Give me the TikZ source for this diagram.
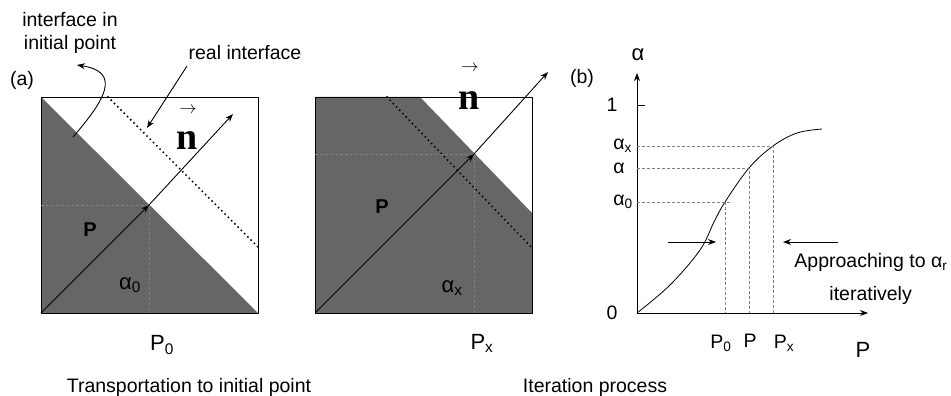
\documentclass[tikz,border=0pt]{standalone}
\usepackage{fontspec}
\setmainfont{Liberation Sans}
\newfontfamily\nfont{Liberation Serif}
\usetikzlibrary{arrows.meta}
\definecolor{fillgray}{RGB}{102,102,102}
\begin{document}
\begin{tikzpicture}[x=1pt,y=-1pt,line join=round,line width=0.9pt,
    >={Stealth[length=8pt,width=6pt]},
    lbl/.style={inner sep=0pt,font=\fontsize{19.5}{23}\selectfont},
    big/.style={inner sep=0pt,font=\fontsize{22}{24}\selectfont},
    bigp/.style={inner sep=0pt,font=\fontsize{20}{22}\selectfont\bfseries},
    nvec/.style={inner sep=0pt,font=\fontsize{38}{40}\selectfont\nfont\bfseries},
    guide/.style={densely dashed,gray,line width=0.6pt},
    iface/.style={line width=2.1pt,line cap=round,dash pattern=on 0pt off 4.6pt}]
\useasboundingbox (0,0) rectangle (951,396);
% (a) left square: interface in initial point
\coordinate (a1) at (41,97);
\coordinate (a3) at (258,313);
\coordinate (a4) at (41,313);
\coordinate (p0) at (149,205);
\coordinate (n0) at (233,114);
\fill[fillgray] (a1) -- (a3) -- (a4) -- cycle;
\draw[iface] (108,97) -- (258,247);
\draw (a1) rectangle (a3);
\draw[guide] (41,205) -- (p0) -- (149,313);
\draw[->] (a4) -- (p0);
\draw[->] (p0) -- (n0);
\node[bigp] (pa) at (90,230) {P};
\node[big] (al0) at (130,285) {α\textsubscript{0}};
\node[nvec] (na) at (187,141) {n};
\node[inner sep=0pt,font=\fontsize{18}{20}\selectfont] (va) at (188,110) {$\rightarrow$};
\node[big] (P0a) at (162,345) {P\textsubscript{0}};
\node[lbl] (capa) at (189,387) {Transportation to initial point};
\node[lbl] (la) at (22,80) {(a)};
% callouts
\node[lbl,align=center] (init) at (70,33) {interface in\\initial point};
\node[lbl] (real) at (245,53) {real interface};
\coordinate (c1) at (73,137);
\coordinate (c2) at (77,65);
\coordinate (r1) at (187,66);
\coordinate (r2) at (147,128);
\draw[->] (c1) .. controls (105,100) and (122,72) .. (c2);
\draw[->] (r1) -- (r2);
% right square: after iteration
\coordinate (b1) at (315,97);
\coordinate (b3) at (532,313);
\coordinate (b4) at (315,313);
\coordinate (px) at (474,154);
\coordinate (nx) at (548,72);
\fill[fillgray] (315,97) -- (420,97) -- (532,213) -- (532,313) -- (315,313) -- cycle;
\draw[iface] (387,97) -- (532,248);
\draw (b1) rectangle (b3);
\draw[guide] (315,154) -- (px) -- (474,313);
\draw[->] (b4) -- (px);
\draw[->] (px) -- (nx);
\node[bigp] (pb) at (382,207) {P};
\node[big] (alx) at (452,288) {α\textsubscript{x}};
\node[nvec] (nb) at (469,101) {n};
\node[inner sep=0pt,font=\fontsize{18}{20}\selectfont] (vb) at (470,68) {$\rightarrow$};
\node[big] (Pxb) at (482,343) {P\textsubscript{x}};
\node[lbl] (capb) at (595,387) {Iteration process};
% (b) graph
\coordinate (O) at (637,313);
\coordinate (ytop) at (637,73);
\coordinate (xend) at (868,313);
\draw[->] (O) -- (ytop);
\draw[->] (O) -- (xend);
\draw (637,105) -- (645,105);
\draw[line width=0.8pt] plot[smooth,tension=0.6] coordinates {(637,313) (670,285) (700,250) (714,222) (725,202) (749,168) (773,146) (797,133) (822,129)};
\draw[guide] (637,202) -- (732,202) (725,202) -- (725,313);
\draw[guide] (637,168) -- (749,168) -- (749,313);
\draw[guide] (637,146) -- (773,146) -- (773,313);
\node[lbl] (lb) at (582,78) {(b)};
\node[big] (yal) at (638,55) {α};
\node[lbl] (one) at (612,105) {1};
\node[lbl] (zero) at (612,313) {0};
\node[lbl,anchor=west] (lax) at (613,146) {α\textsubscript{x}};
\node[lbl,anchor=west] (lal) at (613,168) {α};
\node[lbl,anchor=west] (la0) at (613,202) {α\textsubscript{0}};
\node[lbl] (gP0) at (721,343) {P\textsubscript{0}};
\node[lbl] (gP) at (750,341) {P};
\node[lbl] (gPx) at (784,343) {P\textsubscript{x}};
\node[big] (xP) at (863,350) {P};
\coordinate (l1) at (668,242);
\coordinate (l2) at (716,242);
\coordinate (r3) at (838,242);
\coordinate (r4) at (783,242);
\draw[->] (l1) -- (l2);
\draw[->] (r3) -- (r4);
\node[lbl,anchor=west] (appr) at (794,262) {Approaching to α\textsubscript{r}};
\node[lbl,anchor=west] (iter) at (829,295) {iteratively};
\end{tikzpicture}
\end{document}
